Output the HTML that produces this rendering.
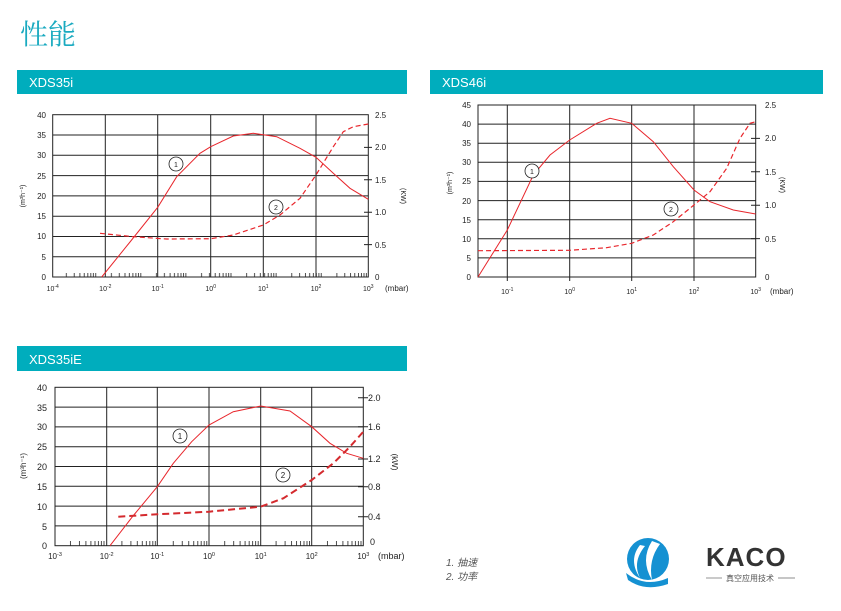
<!DOCTYPE html>
<html><head><meta charset="utf-8"><style>
html,body{margin:0;padding:0;background:#fff;}
svg{display:block;}
text{font-family:"Liberation Sans","Noto Sans CJK SC",sans-serif;fill:#222;}
</style></head><body>
<svg width="841" height="611" viewBox="0 0 841 611" xmlns="http://www.w3.org/2000/svg">
<defs>
<pattern id="m1" patternUnits="userSpaceOnUse" x="52.7" y="0" width="45.1" height="611">
<g stroke="#222" stroke-width="0.8"><path d="M13.6 273V277M21.5 273V277M27.2 273V277M31.5 273V277M35.1 273V277M38.1 273V277M40.7 273V277M43 273V277"/></g>
</pattern>
<pattern id="m3" patternUnits="userSpaceOnUse" x="55" y="0" width="51.4" height="611">
<g stroke="#222" stroke-width="0.8"><path d="M15.5 541V545.7M24.5 541V545.7M30.9 541V545.7M35.9 541V545.7M40 541V545.7M43.4 541V545.7M46.4 541V545.7M49 541V545.7"/></g>
</pattern>
</defs>
<text x="20" y="44" font-size="28" style="fill:#1aaac0;font-family:'Noto Serif CJK SC','Noto Sans CJK SC',serif">性能</text>

<rect x="17" y="70" width="390" height="24" fill="#00adbd"/>
<text x="29" y="87" font-size="13" style="fill:#fff">XDS35i</text>
<rect x="430" y="70" width="393" height="24" fill="#00adbd"/>
<text x="442" y="87" font-size="13" style="fill:#fff">XDS46i</text>
<rect x="17" y="346" width="390" height="25" fill="#00adbd"/>
<text x="29" y="364" font-size="13" style="fill:#fff">XDS35iE</text>

<!-- Chart 1 -->
<g stroke="#222" stroke-width="1" fill="none">
<rect x="52.7" y="114.7" width="315.6" height="162.3"/>
<path d="M105.3 114.7V277M157.7 114.7V277M210.7 114.7V277M263.3 114.7V277M316 114.7V277"/>
<path d="M52.7 135H368.3M52.7 155.3H368.3M52.7 175.6H368.3M52.7 195.9H368.3M52.7 216.2H368.3M52.7 236.5H368.3M52.7 256.7H368.3"/>
<path d="M364 147.4H372M364 179.8H372M364 212.2H372M364 244.6H372"/>
</g>
<rect x="52.7" y="270" width="315.6" height="8" fill="url(#m1)"/>
<g font-size="8" text-anchor="end">
<text x="46" y="118">40</text><text x="46" y="138">35</text><text x="46" y="158">30</text><text x="46" y="179">25</text><text x="46" y="199">20</text><text x="46" y="219">15</text><text x="46" y="239">10</text><text x="46" y="260">5</text><text x="46" y="280">0</text>
</g>
<g font-size="8">
<text x="375" y="118">2.5</text><text x="375" y="150">2.0</text><text x="375" y="183">1.5</text><text x="375" y="215">1.0</text><text x="375" y="248">0.5</text><text x="375" y="280">0</text>
</g>
<g font-size="7" text-anchor="middle">
<text x="52.7" y="291">10<tspan font-size="5" dy="-3">-4</tspan></text>
<text x="105.3" y="291">10<tspan font-size="5" dy="-3">-2</tspan></text>
<text x="157.7" y="291">10<tspan font-size="5" dy="-3">-1</tspan></text>
<text x="210.7" y="291">10<tspan font-size="5" dy="-3">0</tspan></text>
<text x="263.3" y="291">10<tspan font-size="5" dy="-3">1</tspan></text>
<text x="316" y="291">10<tspan font-size="5" dy="-3">2</tspan></text>
<text x="368.3" y="291">10<tspan font-size="5" dy="-3">3</tspan></text>
</g>
<text x="385" y="291" font-size="8">(mbar)</text>
<text font-size="7" transform="translate(25,196) rotate(-90)" text-anchor="middle">(m³h⁻¹)</text>
<text font-size="7" transform="translate(401,196) rotate(90)" text-anchor="middle">(KW)</text>
<polyline fill="none" stroke="#e8262c" stroke-width="1" points="101.7,277 130,242 157.7,207.3 176.7,176.7 200,153.3 210.7,146.7 233.3,136 253.3,133.3 276.7,136.7 300,148.3 316,157.3 333.3,173.3 350,188.3 368.3,199.3"/>
<polyline fill="none" stroke="#e8262c" stroke-width="1.2" stroke-dasharray="5,3" points="100,233.3 133.3,236.7 166.7,239 210.7,238.7 233.3,235 263.3,225 280,215 300,198.3 316,175 333.3,146.7 343.3,131.7 353.3,126.7 368.3,124"/>
<circle cx="176" cy="164" r="7" fill="#fff" stroke="#222" stroke-width="0.8"/><text x="176" y="167" font-size="7" text-anchor="middle">1</text>
<circle cx="276" cy="207" r="7" fill="#fff" stroke="#222" stroke-width="0.8"/><text x="276" y="210" font-size="7" text-anchor="middle">2</text>

<!-- Chart 2 -->
<g stroke="#222" stroke-width="1" fill="none">
<rect x="478" y="105" width="277.7" height="172"/>
<path d="M507.3 105V281M569.7 105V281M631.7 105V281M694 105V281"/>
<path d="M478 124.1H755.7M478 143.2H755.7M478 162.3H755.7M478 181.4H755.7M478 200.6H755.7M478 219.7H755.7M478 238.8H755.7M478 257.9H755.7"/>
<path d="M751 138.4H760M751 171.8H760M751 205.2H760M751 238.6H760"/>
</g>
<g font-size="8" text-anchor="end">
<text x="471" y="108">45</text><text x="471" y="127">40</text><text x="471" y="146">35</text><text x="471" y="165">30</text><text x="471" y="184">25</text><text x="471" y="204">20</text><text x="471" y="223">15</text><text x="471" y="242">10</text><text x="471" y="261">5</text><text x="471" y="280">0</text>
</g>
<g font-size="8">
<text x="765" y="108">2.5</text><text x="765" y="141">2.0</text><text x="765" y="175">1.5</text><text x="765" y="208">1.0</text><text x="765" y="242">0.5</text><text x="765" y="280">0</text>
</g>
<g font-size="7" text-anchor="middle">
<text x="507.3" y="294">10<tspan font-size="5" dy="-3">-1</tspan></text>
<text x="569.7" y="294">10<tspan font-size="5" dy="-3">0</tspan></text>
<text x="631.7" y="294">10<tspan font-size="5" dy="-3">1</tspan></text>
<text x="694" y="294">10<tspan font-size="5" dy="-3">2</tspan></text>
<text x="755.7" y="294">10<tspan font-size="5" dy="-3">3</tspan></text>
</g>
<text x="770" y="294" font-size="8">(mbar)</text>
<text font-size="7" transform="translate(452,183) rotate(-90)" text-anchor="middle">(m³h⁻¹)</text>
<text font-size="7" transform="translate(780,185) rotate(90)" text-anchor="middle">(KW)</text>
<polyline fill="none" stroke="#e8262c" stroke-width="1" points="478,277 507.3,230 533.3,175 550,155 569.7,140 596.7,123.3 610,118.3 631.7,123.3 653.3,141.7 673.3,166.7 694,190 710,201.7 733.3,210 755.7,214"/>
<polyline fill="none" stroke="#e8262c" stroke-width="1.2" stroke-dasharray="5,3" points="478,250.7 569.7,250.3 606.7,247.7 631.7,243.3 653.3,235 673.3,221.7 694,205 710,191.7 726.7,168.3 740,138.3 750,123.3 755.7,121.7"/>
<circle cx="532" cy="171" r="7" fill="#fff" stroke="#222" stroke-width="0.8"/><text x="532" y="174" font-size="7" text-anchor="middle">1</text>
<circle cx="671" cy="209" r="7" fill="#fff" stroke="#222" stroke-width="0.8"/><text x="671" y="212" font-size="7" text-anchor="middle">2</text>

<!-- Chart 3 -->
<g stroke="#222" stroke-width="1" fill="none">
<rect x="55" y="387.3" width="308.3" height="158.4"/>
<path d="M106.7 387.3V545.7M157.3 387.3V545.7M209 387.3V545.7M260.7 387.3V545.7M311.7 387.3V545.7"/>
<path d="M55 407.1H363.3M55 426.9H363.3M55 446.7H363.3M55 466.5H363.3M55 486.3H363.3M55 506.1H363.3M55 525.9H363.3"/>
<path d="M358 397.7H368M358 426.7H368M358 459H368M358 486.7H368M358 516.7H368"/>
</g>
<rect x="55" y="538" width="308.3" height="8" fill="url(#m3)"/>
<g font-size="9" text-anchor="end">
<text x="47" y="391">40</text><text x="47" y="411">35</text><text x="47" y="430">30</text><text x="47" y="450">25</text><text x="47" y="470">20</text><text x="47" y="490">15</text><text x="47" y="510">10</text><text x="47" y="530">5</text><text x="47" y="549">0</text>
</g>
<g font-size="9">
<text x="368" y="401">2.0</text><text x="368" y="430">1.6</text><text x="368" y="462">1.2</text><text x="368" y="490">0.8</text><text x="368" y="520">0.4</text><text x="370" y="545">0</text>
</g>
<g font-size="8" text-anchor="middle">
<text x="55" y="559">10<tspan font-size="5.5" dy="-3">-3</tspan></text>
<text x="106.7" y="559">10<tspan font-size="5.5" dy="-3">-2</tspan></text>
<text x="157.3" y="559">10<tspan font-size="5.5" dy="-3">-1</tspan></text>
<text x="209" y="559">10<tspan font-size="5.5" dy="-3">0</tspan></text>
<text x="260.7" y="559">10<tspan font-size="5.5" dy="-3">1</tspan></text>
<text x="311.7" y="559">10<tspan font-size="5.5" dy="-3">2</tspan></text>
<text x="363.3" y="559">10<tspan font-size="5.5" dy="-3">3</tspan></text>
</g>
<text x="378" y="559" font-size="9">(mbar)</text>
<text font-size="8" transform="translate(26,466) rotate(-90)" text-anchor="middle">(m³h⁻¹)</text>
<text font-size="8" transform="translate(392,462) rotate(90)" text-anchor="middle">(kW)</text>
<polyline fill="none" stroke="#e8262c" stroke-width="1" points="110,545.7 133,516 157.3,486.7 173.3,463.3 191.7,441.7 209,425 233.3,411.7 260.7,406 290,411 311.7,426.7 330,443.3 346.7,453.3 363.3,458.3"/>
<polyline fill="none" stroke="#d42a2e" stroke-width="2" stroke-dasharray="7,4" points="118.3,516.7 157.3,514.3 209,511.7 260.7,506.7 283.3,498.3 311.7,480 333.3,463.3 350,446.7 363.3,431.7"/>
<circle cx="180" cy="436" r="7" fill="#fff" stroke="#222" stroke-width="0.8"/><text x="180" y="439" font-size="8" text-anchor="middle">1</text>
<circle cx="283" cy="475" r="7" fill="#fff" stroke="#222" stroke-width="0.8"/><text x="283" y="478" font-size="8" text-anchor="middle">2</text>

<!-- legend -->
<text x="446" y="566" font-size="10" font-style="italic" style="fill:#555">1. 抽速</text>
<text x="446" y="580" font-size="10" font-style="italic" style="fill:#555">2. 功率</text>

<!-- logo -->
<circle cx="648" cy="559" r="21" fill="#1591d2"/>
<path d="M640 545 Q628 560 640 578 Q632 562 645 546 Z" fill="#fff"/>
<path d="M652 541 Q640 560 652 580 Q648 560 660 544 Z" fill="#fff"/>
<path d="M626 573 Q645 588 668 578 L668 584 Q645 592 628 580 Z" fill="#1591d2"/>
<text x="706" y="566" font-size="26" font-weight="bold" style="fill:#333;letter-spacing:1px">KACO</text>
<line x1="706" y1="578" x2="722" y2="578" stroke="#666" stroke-width="0.7"/>
<line x1="778" y1="578" x2="795" y2="578" stroke="#666" stroke-width="0.7"/>
<text x="750" y="581" font-size="8" text-anchor="middle" style="fill:#555">真空应用技术</text>
</svg>
</body></html>
